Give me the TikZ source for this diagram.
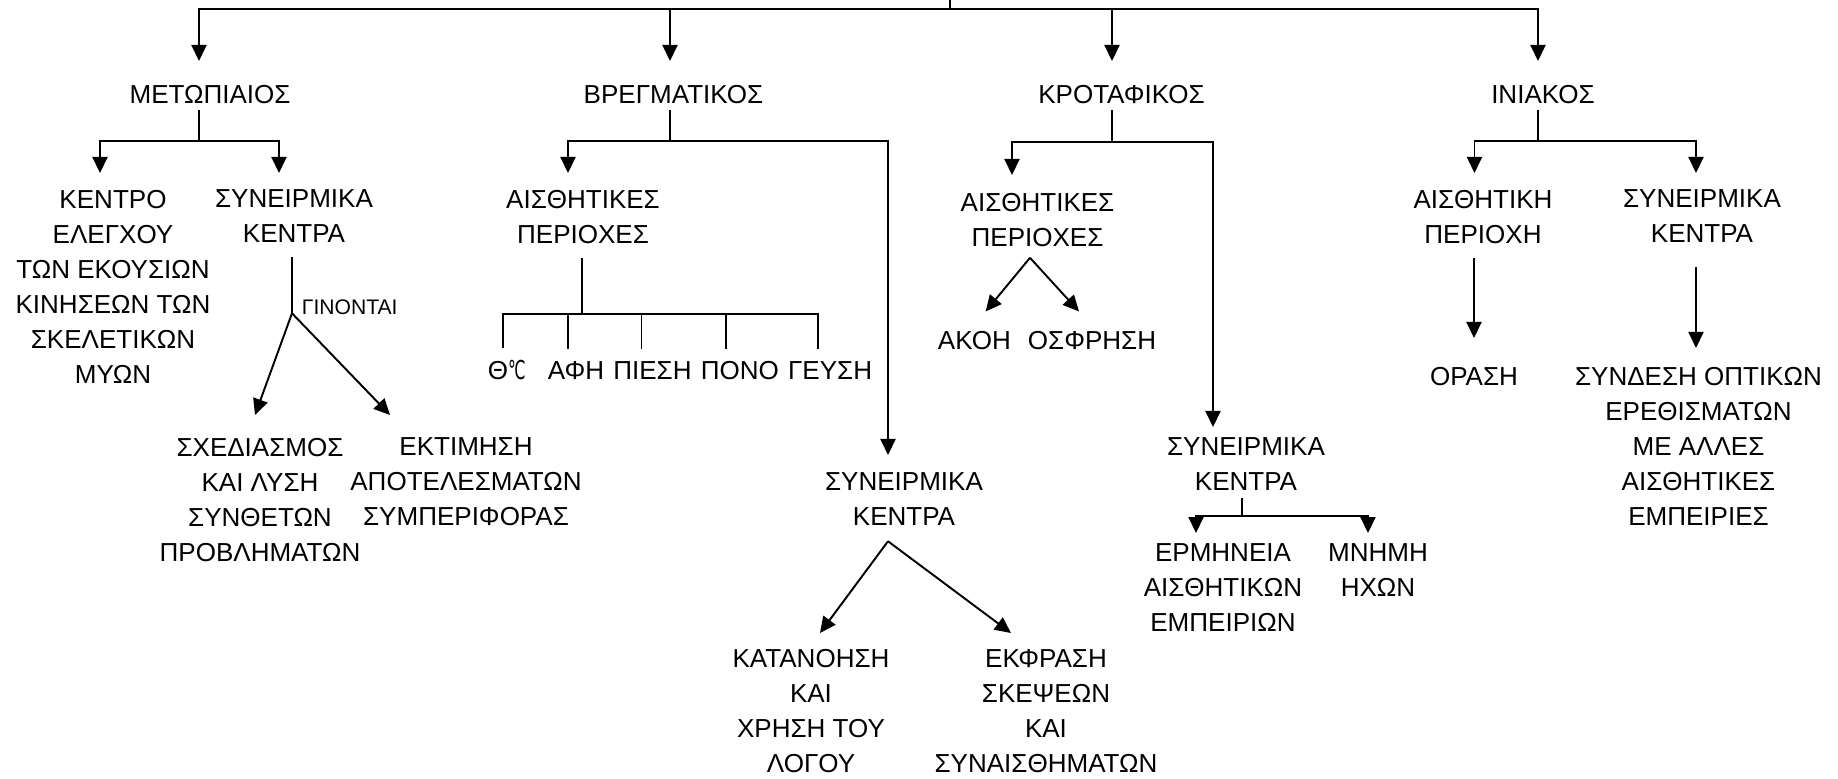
\documentclass[tikz,border=0pt]{standalone}
\usepackage{fontspec}
\setmainfont{Liberation Sans}
\newfontfamily\symfont{DejaVu Sans}
\usetikzlibrary{arrows.meta, positioning}

\begin{document}
\begin{tikzpicture}[
  x=0.01cm, y=-0.01cm,
  line width=0.55pt,
  lbl/.style={inner sep=0pt, align=center, anchor=north,
              font=\fontsize{7.4}{9.96}\selectfont},
  word/.style={inner sep=0pt, anchor=base west,
               font=\fontsize{7.4}{9.96}\selectfont},
  note/.style={inner sep=0pt, anchor=base west,
               font=\fontsize{6}{7}\selectfont},
  arr/.style={-{Triangle[length=0.16cm,width=0.15cm]}}
]
\useasboundingbox (0,0) rectangle (1838,778);

% lobes
\node[lbl] (met)   at (210,84)    {ΜΕΤΩΠΙΑΙΟΣ};
\node[lbl] (vreg)  at (673.5,84)  {ΒΡΕΓΜΑΤΙΚΟΣ};
\node[lbl] (krot)  at (1121.5,84) {ΚΡΟΤΑΦΙΚΟΣ};
\node[lbl] (iniak) at (1543,84)   {ΙΝΙΑΚΟΣ};

% second level
\node[lbl] (kinit)   at (113,189)    {ΚΕΝΤΡΟ\\ΕΛΕΓΧΟΥ\\ΤΩΝ ΕΚΟΥΣΙΩΝ\\ΚΙΝΗΣΕΩΝ ΤΩΝ\\ΣΚΕΛΕΤΙΚΩΝ\\ΜΥΩΝ};
\node[lbl] (metsyn)  at (294,189)    {ΣΥΝΕΙΡΜΙΚΑ\\ΚΕΝΤΡΑ};
\node[lbl] (vraisth) at (583,189)    {ΑΙΣΘΗΤΙΚΕΣ\\ΠΕΡΙΟΧΕΣ};
\node[lbl] (kraisth) at (1037.5,192) {ΑΙΣΘΗΤΙΚΕΣ\\ΠΕΡΙΟΧΕΣ};
\node[lbl] (inaisth) at (1483,189)   {ΑΙΣΘΗΤΙΚΗ\\ΠΕΡΙΟΧΗ};
\node[lbl] (insyn)   at (1702,189)   {ΣΥΝΕΙΡΜΙΚΑ\\ΚΕΝΤΡΑ};

% third level
\node[lbl] (sxed)  at (260,437)  {ΣΧΕΔΙΑΣΜΟΣ\\ΚΑΙ ΛΥΣΗ\\ΣΥΝΘΕΤΩΝ\\ΠΡΟΒΛΗΜΑΤΩΝ};
\node[lbl] (ektim) at (466,437)  {ΕΚΤΙΜΗΣΗ\\ΑΠΟΤΕΛΕΣΜΑΤΩΝ\\ΣΥΜΠΕΡΙΦΟΡΑΣ};
\node[lbl] (vrsyn) at (904,472)  {ΣΥΝΕΙΡΜΙΚΑ\\ΚΕΝΤΡΑ};
\node[lbl] (krsyn) at (1246,437) {ΣΥΝΕΙΡΜΙΚΑ\\ΚΕΝΤΡΑ};
\node[lbl] (orasi) at (1474,366) {ΟΡΑΣΗ};
\node[lbl] (synd)  at (1698.5,366) {ΣΥΝΔΕΣΗ ΟΠΤΙΚΩΝ\\ΕΡΕΘΙΣΜΑΤΩΝ\\ΜΕ ΑΛΛΕΣ\\ΑΙΣΘΗΤΙΚΕΣ\\ΕΜΠΕΙΡΙΕΣ};
\node[lbl] (katan) at (811,648)  {ΚΑΤΑΝΟΗΣΗ\\ΚΑΙ\\ΧΡΗΣΗ ΤΟΥ\\ΛΟΓΟΥ};
\node[lbl] (ekfr)  at (1046,648) {ΕΚΦΡΑΣΗ\\ΣΚΕΨΕΩΝ\\ΚΑΙ\\ΣΥΝΑΙΣΘΗΜΑΤΩΝ};
\node[lbl] (ermin) at (1223,543) {ΕΡΜΗΝΕΙΑ\\ΑΙΣΘΗΤΙΚΩΝ\\ΕΜΠΕΙΡΙΩΝ};
\node[lbl] (mnimi) at (1378,543) {ΜΝΗΜΗ\\ΗΧΩΝ};

% senses
\node[word] (therm) at (487,379) {Θ\scalebox{0.6}[1]{\symfont ℃}};
\node[word] (afi)   at (547,379) {ΑΦΗ};
\node[word, base right=0.0728cm of afi]   (piesi) {ΠΙΕΣΗ};
\node[word, base right=0.0728cm of piesi] (pono)  {ΠΟΝΟ};
\node[word, base right=0.0728cm of pono]  (geysi) {ΓΕΥΣΗ};
\node[word] (akoi) at (937,349)  {ΑΚΟΗ};
\node[word] (osfr) at (1027,349) {ΟΣΦΡΗΣΗ};
\node[note] (ginon) at (301,314) {ΓΙΝΟΝΤΑΙ};

% top bus
\coordinate (root) at (950,0);
\coordinate (bus) at (950,9);
\draw (root) -- (bus);
\foreach \n/\dx in {met/-11, vreg/-3.5, krot/-9.5, iniak/-5}
  \draw[arr] (bus) -| ([shift={(\dx,-23)}]\n.north);

% frontal
\draw ([shift={(-11,5.4)}]met.south) -- ++(0,31) coordinate (mj);
\draw[arr] (mj) -| ([shift={(-13,-16)}]kinit.north);
\draw[arr] (mj) -| ([shift={(-15,-16)}]metsyn.north);
\draw ([shift={(-2,13.4)}]metsyn.south) -- ++(0,56) coordinate (gj);
\draw[arr] (gj) -- ([shift={(-5,-22)}]sxed.north);
\draw[arr] (gj) -- ([shift={(-76,-22)}]ektim.north);

% parietal
\draw ([shift={(-3.5,5.4)}]vreg.south) -- ++(0,31) coordinate (vj);
\draw[arr] (vj) -| ([shift={(-15,-16)}]vraisth.north);
\draw[arr] (vj) -| ([shift={(-16,-17)}]vrsyn.north);
\draw ([shift={(-1.3,13.4)}]vraisth.south) -- ++(0,56) coordinate (aj);
\foreach \w/\dx in {therm/-3.5, afi/-8, piesi/-11, pono/-14, geysi/-12}
  \draw[shorten >=0.11cm] (aj) -| ([shift={(\dx,0)}]\w.north);
\coordinate (vsj) at ([shift={(-16,14.4)}]vrsyn.south);
\draw[arr] (vsj) -- ([shift={(9,-15)}]katan.north);
\draw[arr] (vsj) -- ([shift={(-35,-15)}]ekfr.north);

% temporal
\draw ([shift={(-9.5,5.4)}]krot.south) -- ++(0,32) coordinate (kj);
\draw[arr] (kj) -| ([shift={(-25.5,-17)}]kraisth.north);
\draw[arr] (kj) -| ([shift={(-33,-10)}]krsyn.north);
\coordinate (kaj) at ([shift={(-7.5,10.4)}]kraisth.south);
\draw[arr] (kaj) -- ([shift={(11.2,-18.4)}]akoi.north);
\draw[arr] (kaj) -- ([shift={(-13,-18.4)}]osfr.north);
\draw ([shift={(-4,6)}]krsyn.south) -- ++(0,17.8) coordinate (sj);
\draw[arr] (sj) -| ([shift={(-27,-10)}]ermin.north);
\draw[arr] (sj) -| ([shift={(-10,-10)}]mnimi.north);

% occipital
\draw ([shift={(-5,5.4)}]iniak.south) -- ++(0,31) coordinate (ij);
\draw[arr] (ij) -| ([shift={(-8.5,-16)}]inaisth.north);
\draw[arr] (ij) -| ([shift={(-6,-16)}]insyn.north);
\draw[arr] ([shift={(-9,13.4)}]inaisth.south) -- ([shift={(0,-28)}]orasi.north);
\draw[arr] ([shift={(-6,23)}]insyn.south) -- ([shift={(-2.5,-18)}]synd.north);
\end{tikzpicture}
\end{document}
